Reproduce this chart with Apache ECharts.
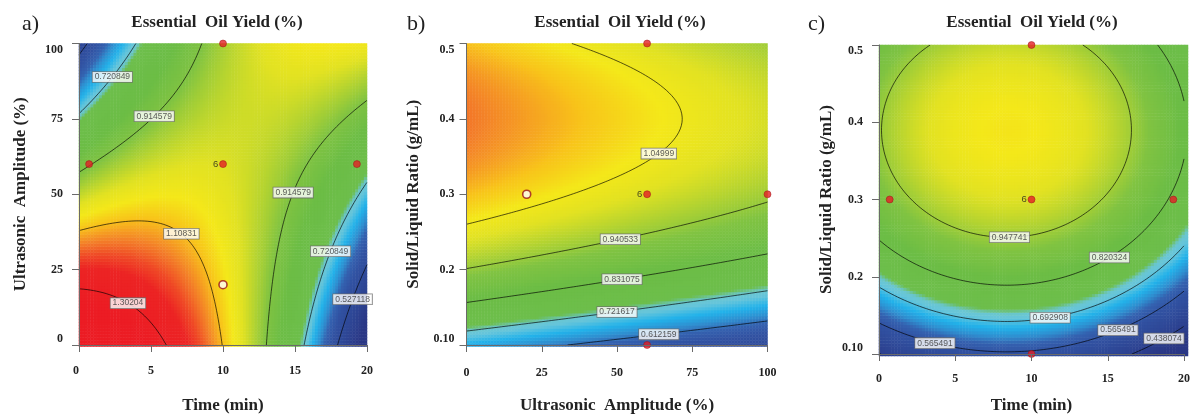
<!DOCTYPE html>
<html>
<head>
<meta charset="utf-8">
<script src="https://cdn.jsdelivr.net/npm/echarts@6/dist/echarts.min.js"></script>
<style>
  html, body { margin: 0; padding: 0; background: #fff; }
  #chart { width: 1193px; height: 419px; }
</style>
</head>
<body>
<div id="chart"></div>
<script>
// ---- Fitted second-order response-surface models -------------------------
// Coefficients [b0, bX, bY, bXY, bXX, bYY] in coded units of each panel's
// axes: X and Y run from -1 at the axis minimum to +1 at the axis maximum.
const coefTimeAmplitude  = [1.03,   -0.1475, -0.0725, 0.4275, -0.19,  0.0025];
const coefAmplitudeRatio = [1.0275, -0.075,   0.22,   0,       0,     -0.22];
const coefTimeRatio      = [1.0109, -0.0571,  0.2178, 0,      -0.174, -0.242];

// ---- Contour levels ------------------------------------------------------
const levelsA = [0.527118, 0.720849, 0.914579, 1.10831, 1.30204];
const levelsB = [0.612159, 0.721617, 0.831075, 0.940533, 1.04999];
const levelsC = [0.438074, 0.565491, 0.692908, 0.820324, 0.947741];

// ---- Design points (replicate count shown beside the point) -------------
const designTimeA  = [0.7, 10, 10, 19.3];
const designAmpA   = [60, 100, 60, 60];
const designRepsA  = [1, 1, 6, 1];
const checkTimeA   = [10];
const checkAmpA    = [20];

const designAmpB   = [60, 60, 100, 60];
const designRatioB = [0.5, 0.3, 0.3, 0.1];
const designRepsB  = [1, 6, 1, 1];
const checkAmpB    = [20];
const checkRatioB  = [0.3];

const designTimeC  = [0.7, 10, 10, 19.3, 10];
const designRatioC = [0.3, 0.5, 0.3, 0.3, 0.1];
const designRepsC  = [1, 1, 6, 1, 1];

// ---- Axis tick labels ----------------------------------------------------
const timeTicks  = ['0', '5', '10', '15', '20'];
const ampTicks   = ['0', '25', '50', '75', '100'];
const ratioTicks = ['0.10', '0.2', '0.3', '0.4', '0.5'];

// ---- Layout and style ----------------------------------------------------
// Where each contour label sits: [level index, x, y] near its line.
const labelSpotsA = [[1, 2.3, 89], [2, 5.1, 76.4], [2, 14.7, 51], [3, 7.3, 38],
                     [1, 17.3, 31.6], [4, 3.6, 15.4], [0, 18.9, 15.4]];
const labelSpotsB = [[4, 63.7, 0.355], [3, 50.7, 0.247], [2, 51.2, 0.195],
                     [1, 49.8, 0.153], [0, 63.7, 0.123]];
const labelSpotsC = [[4, 8.5, 0.255], [3, 15.0, 0.231], [2, 11.2, 0.152],
                     [1, 3.8, 0.129], [1, 15.5, 0.136], [0, 18.5, 0.127]];

// Colour stops of the response scale (value, colour)
const rampStops = [
  [0.40, '#2a3785'], [0.50, '#2e4796'], [0.57, '#3152a2'], [0.61, '#3462b0'],
  [0.64, '#2f8fd0'], [0.675, '#22b2ea'], [0.71, '#66c5da'], [0.728, '#6ac6d2'],
  [0.745, '#6dbe4c'], [0.85, '#6cbd45'], [0.92, '#80c342'], [0.97, '#b0d232'],
  [1.02, '#e2e222'], [1.06, '#f4e81a'], [1.10, '#f8c41a'], [1.15, '#f38028'],
  [1.19, '#ef4a26'], [1.23, '#ec2424'], [1.35, '#ec1c24']
];
const RAMP_MIN = 0.40, RAMP_MAX = 1.35, RAMP_STEP = 0.005;

const SERIF = 'Liberation Serif';
const SANS = 'Liberation Sans';
const CELLS = 100;      // heatmap resolution per axis
const MESH = 180;       // contour tracing resolution

function hexToRgb(h) {
  return [parseInt(h.slice(1, 3), 16), parseInt(h.slice(3, 5), 16), parseInt(h.slice(5, 7), 16)];
}
function rampColor(v) {
  for (let i = 0; i < rampStops.length - 1; i++) {
    const [v0, c0] = rampStops[i], [v1, c1] = rampStops[i + 1];
    if (v <= v1 + 1e-9) {
      const t = Math.max(0, Math.min(1, (v - v0) / (v1 - v0)));
      const a = hexToRgb(c0), b = hexToRgb(c1);
      return 'rgb(' + a.map((x, k) => Math.round(x + (b[k] - x) * t)).join(',') + ')';
    }
  }
  return rampStops[rampStops.length - 1][1];
}
// evenly spaced colour list for the continuous visual map
const colorRamp = [];
for (let v = RAMP_MIN; v <= RAMP_MAX + 1e-9; v += RAMP_STEP) colorRamp.push(rampColor(v));

const panels = [
  { coef: coefTimeAmplitude, xr: [0, 20], yr: [0, 100], xInt: 5, yInt: 25,
    xTicks: timeTicks, yTicks: ampTicks, levels: levelsA, spots: labelSpotsA,
    dx: designTimeA, dy: designAmpA, reps: designRepsA, cx: checkTimeA, cy: checkAmpA,
    xName: 'Time (min)', yName: 'Ultrasonic  Amplitude (%)',
    rect: { left: 79, top: 43.5, width: 288, height: 303 },
    xLabelMargin: 20, yLabelMargin: 16, xNameGap: 52, yNameGap: 50, minAlign: 'right' },
  { coef: coefAmplitudeRatio, xr: [0, 100], yr: [0.1, 0.5], xInt: 25, yInt: 0.1,
    xTicks: ampTicks, yTicks: ratioTicks, levels: levelsB, spots: labelSpotsB,
    dx: designAmpB, dy: designRatioB, reps: designRepsB, cx: checkAmpB, cy: checkRatioB,
    xName: 'Ultrasonic  Amplitude (%)', yName: 'Solid/Liquid Ratio (g/mL)',
    rect: { left: 466.5, top: 43.5, width: 301, height: 303 },
    xLabelMargin: 22, yLabelMargin: 12, xNameGap: 52, yNameGap: 44, minAlign: 'center' },
  { coef: coefTimeRatio, xr: [0, 20], yr: [0.1, 0.5], xInt: 5, yInt: 0.1,
    xTicks: timeTicks, yTicks: ratioTicks, levels: levelsC, spots: labelSpotsC,
    dx: designTimeC, dy: designRatioC, reps: designRepsC, cx: [], cy: [],
    xName: 'Time (min)', yName: 'Solid/Liquid Ratio (g/mL)',
    rect: { left: 879, top: 45, width: 309, height: 311 },
    xLabelMargin: 19, yLabelMargin: 16, xNameGap: 43, yNameGap: 44, minAlign: 'center' }
];

// Response value of a panel's model at axis coordinates (x, y)
function modelAt(p, x, y) {
  const X = (x - (p.xr[0] + p.xr[1]) / 2) / ((p.xr[1] - p.xr[0]) / 2);
  const Y = (y - (p.yr[0] + p.yr[1]) / 2) / ((p.yr[1] - p.yr[0]) / 2);
  const b = p.coef;
  return b[0] + b[1] * X + b[2] * Y + b[3] * X * Y + b[4] * X * X + b[5] * Y * Y;
}

// Marching squares: returns polylines where the model equals level
function traceContours(p, level) {
  const xs = [], ys = [];
  for (let i = 0; i <= MESH; i++) {
    xs.push(p.xr[0] + (p.xr[1] - p.xr[0]) * i / MESH);
    ys.push(p.yr[0] + (p.yr[1] - p.yr[0]) * i / MESH);
  }
  const v = [];
  for (let j = 0; j <= MESH; j++) {
    const row = [];
    for (let i = 0; i <= MESH; i++) row.push(modelAt(p, xs[i], ys[j]) - level);
    v.push(row);
  }
  const pts = {};
  const segs = [];
  const cross = (E) => {
    const [key, x1, y1, v1, x2, y2, v2] = E;
    if (!(key in pts)) {
      const t = v1 / (v1 - v2);
      pts[key] = [x1 + (x2 - x1) * t, y1 + (y2 - y1) * t];
    }
    return key;
  };
  for (let j = 0; j < MESH; j++) {
    for (let i = 0; i < MESH; i++) {
      const a = v[j][i], b = v[j][i + 1], c = v[j + 1][i + 1], d = v[j + 1][i];
      const edges = [
        ['h' + i + '_' + j, xs[i], ys[j], a, xs[i + 1], ys[j], b],
        ['v' + (i + 1) + '_' + j, xs[i + 1], ys[j], b, xs[i + 1], ys[j + 1], c],
        ['h' + i + '_' + (j + 1), xs[i], ys[j + 1], d, xs[i + 1], ys[j + 1], c],
        ['v' + i + '_' + j, xs[i], ys[j], a, xs[i], ys[j + 1], d]
      ];
      const hit = edges.map(E => ((E[3] > 0) !== (E[6] > 0)) ? cross(E) : null);
      const on = hit.filter(h => h !== null);
      if (on.length === 2) {
        segs.push([on[0], on[1]]);
      } else if (on.length === 4) {
        const center = (a + b + c + d) / 4;
        if ((center > 0) === (a > 0)) {
          segs.push([hit[0], hit[1]]); segs.push([hit[2], hit[3]]);
        } else {
          segs.push([hit[0], hit[3]]); segs.push([hit[1], hit[2]]);
        }
      }
    }
  }
  const adj = {};
  segs.forEach((s, k) => {
    (adj[s[0]] = adj[s[0]] || []).push(k);
    (adj[s[1]] = adj[s[1]] || []).push(k);
  });
  const used = new Array(segs.length).fill(false);
  const walk = (startKey, k0) => {
    const path = [startKey];
    let key = startKey, k = k0;
    while (k !== undefined && !used[k]) {
      used[k] = true;
      const s = segs[k];
      const next = s[0] === key ? s[1] : s[0];
      path.push(next);
      key = next;
      k = (adj[key] || []).filter(q => !used[q])[0];
    }
    return path.map(q => pts[q]);
  };
  const lines = [];
  Object.keys(adj).forEach(key => {
    if (adj[key].length === 1 && !used[adj[key][0]]) lines.push(walk(key, adj[key][0]));
  });
  segs.forEach((s, k) => { if (!used[k]) lines.push(walk(s[0], k)); });
  return lines;
}

function nearestOn(p, lines, x, y) {
  const sx = p.xr[1] - p.xr[0], sy = p.yr[1] - p.yr[0];
  let best = [x, y], bd = Infinity;
  lines.forEach(line => line.forEach(pt => {
    const d = ((pt[0] - x) / sx) ** 2 + ((pt[1] - y) / sy) ** 2;
    if (d < bd) { bd = d; best = pt; }
  }));
  return best;
}

const grid = [], xAxis = [], yAxis = [];
const heatSeries = [], otherSeries = [];
const axisColor = '#6a6a6a';
const nameStyle = { fontFamily: SERIF, fontWeight: 'bold', fontSize: 17, color: '#222' };

panels.forEach((p, k) => {
  // visible value-axis grid
  grid.push(Object.assign({ containLabel: false }, p.rect));
  xAxis.push({
    type: 'value', gridIndex: k, min: p.xr[0], max: p.xr[1], interval: p.xInt, z: 10,
    axisLine: { show: true, onZero: false, lineStyle: { color: axisColor, width: 1 } },
    axisTick: { show: true, length: 7, lineStyle: { color: axisColor } },
    splitLine: { show: false },
    axisLabel: {
      margin: p.xLabelMargin, fontFamily: SERIF, fontWeight: 'bold', fontSize: 12, color: '#222',
      alignMinLabel: p.minAlign,
      formatter: val => p.xTicks[Math.round((val - p.xr[0]) / p.xInt)]
    },
    name: p.xName, nameLocation: 'middle', nameGap: p.xNameGap, nameTextStyle: nameStyle
  });
  yAxis.push({
    type: 'value', gridIndex: k, min: p.yr[0], max: p.yr[1], interval: p.yInt, z: 10,
    axisLine: { show: true, onZero: false, lineStyle: { color: axisColor, width: 1 } },
    axisTick: { show: true, length: 7, lineStyle: { color: axisColor } },
    splitLine: { show: false },
    axisLabel: {
      margin: p.yLabelMargin, fontFamily: SERIF, fontWeight: 'bold', fontSize: 12, color: '#222',
      verticalAlignMinLabel: 'bottom', verticalAlignMaxLabel: 'top',
      formatter: val => p.yTicks[Math.round((val - p.yr[0]) / p.yInt)]
    },
    name: p.yName, nameLocation: 'middle', nameGap: p.yNameGap, nameRotate: 90,
    nameTextStyle: nameStyle
  });
});

panels.forEach((p, k) => {
  // hidden category grid carrying the colour-filled surface
  const gi = panels.length + k;
  grid.push(Object.assign({ containLabel: false }, p.rect));
  const idx = Array.from({ length: CELLS }, (_, i) => i);
  xAxis.push({ type: 'category', gridIndex: gi, data: idx, show: false });
  yAxis.push({ type: 'category', gridIndex: gi, data: idx, show: false });
  const cells = [];
  for (let j = 0; j < CELLS; j++) {
    const y = p.yr[0] + (p.yr[1] - p.yr[0]) * (j + 0.5) / CELLS;
    for (let i = 0; i < CELLS; i++) {
      const x = p.xr[0] + (p.xr[1] - p.xr[0]) * (i + 0.5) / CELLS;
      cells.push([i, j, modelAt(p, x, y)]);
    }
  }
  heatSeries.push({
    type: 'heatmap', xAxisIndex: gi, yAxisIndex: gi, data: cells,
    progressive: 0, silent: true, z: 1, itemStyle: { borderWidth: 0 }
  });

  // contour lines and their value labels
  const byLevel = p.levels.map(lv => traceContours(p, lv));
  byLevel.forEach(lines => lines.forEach(line => {
    otherSeries.push({
      type: 'line', xAxisIndex: k, yAxisIndex: k, data: line, symbol: 'none',
      showSymbol: false, silent: true, z: 3,
      lineStyle: { color: 'rgba(0,0,0,0.65)', width: 1 }
    });
  }));
  const labelData = p.spots.map(s => {
    const pt = nearestOn(p, byLevel[s[0]], s[1], s[2]);
    return { value: [pt[0], pt[1]], name: String(p.levels[s[0]]) };
  });
  otherSeries.push({
    type: 'scatter', xAxisIndex: k, yAxisIndex: k, data: labelData, symbol: 'rect',
    symbolSize: 1, silent: true, z: 5, itemStyle: { color: 'rgba(0,0,0,0)' },
    label: {
      show: true, position: 'inside', formatter: '{b}', fontFamily: SANS, fontSize: 8.5,
      color: '#333', backgroundColor: '#fff', borderColor: '#6b6b6b', borderWidth: 0.8,
      padding: [1, 2, 0, 2], lineHeight: 9
    }
  });

  // design points
  otherSeries.push({
    type: 'scatter', xAxisIndex: k, yAxisIndex: k, silent: true, z: 6,
    data: p.dx.map((x, i) => ({ value: [x, p.dy[i]], reps: p.reps[i] })),
    symbol: 'circle', symbolSize: 7, clip: false,
    itemStyle: { color: '#e31e24', borderColor: '#9b1016', borderWidth: 0.6 },
    label: {
      show: true, position: 'left', distance: 1, fontFamily: SANS, fontSize: 9.5, color: '#1a1a1a',
      formatter: prm => prm.data.reps > 1 ? String(prm.data.reps) : ''
    }
  });
  if (p.cx.length) {
    otherSeries.push({
      type: 'scatter', xAxisIndex: k, yAxisIndex: k, silent: true, z: 6,
      data: p.cx.map((x, i) => [x, p.cy[i]]), symbol: 'circle', symbolSize: 8,
      itemStyle: { color: '#ffffff', borderColor: '#9b1016', borderWidth: 1.6 }
    });
  }
});

const titleCenters = [217, 620, 1032];
const panelTags = [['a)', 22], ['b)', 407], ['c)', 808]];
const graphic = [];
titleCenters.forEach(cx => graphic.push({
  type: 'text', x: cx, y: 23, z: 20,
  style: { text: 'Essential  Oil Yield (%)', fill: '#222', align: 'center', verticalAlign: 'middle',
           font: 'bold 17px "' + SERIF + '"' }
}));
panelTags.forEach(([t, x]) => graphic.push({
  type: 'text', x: x, y: 24, z: 20,
  style: { text: t, fill: '#222', align: 'left', verticalAlign: 'middle',
           font: '22px "' + SERIF + '"' }
}));

const chart = echarts.init(document.getElementById('chart'), null, { renderer: 'canvas' });
chart.setOption({
  animation: false,
  backgroundColor: '#ffffff',
  grid, xAxis, yAxis, graphic,
  visualMap: {
    type: 'continuous', show: false, min: RAMP_MIN, max: RAMP_MAX, dimension: 2,
    seriesIndex: [0, 1, 2], inRange: { color: colorRamp }
  },
  series: heatSeries.concat(otherSeries)
});
</script>
</body>
</html>
